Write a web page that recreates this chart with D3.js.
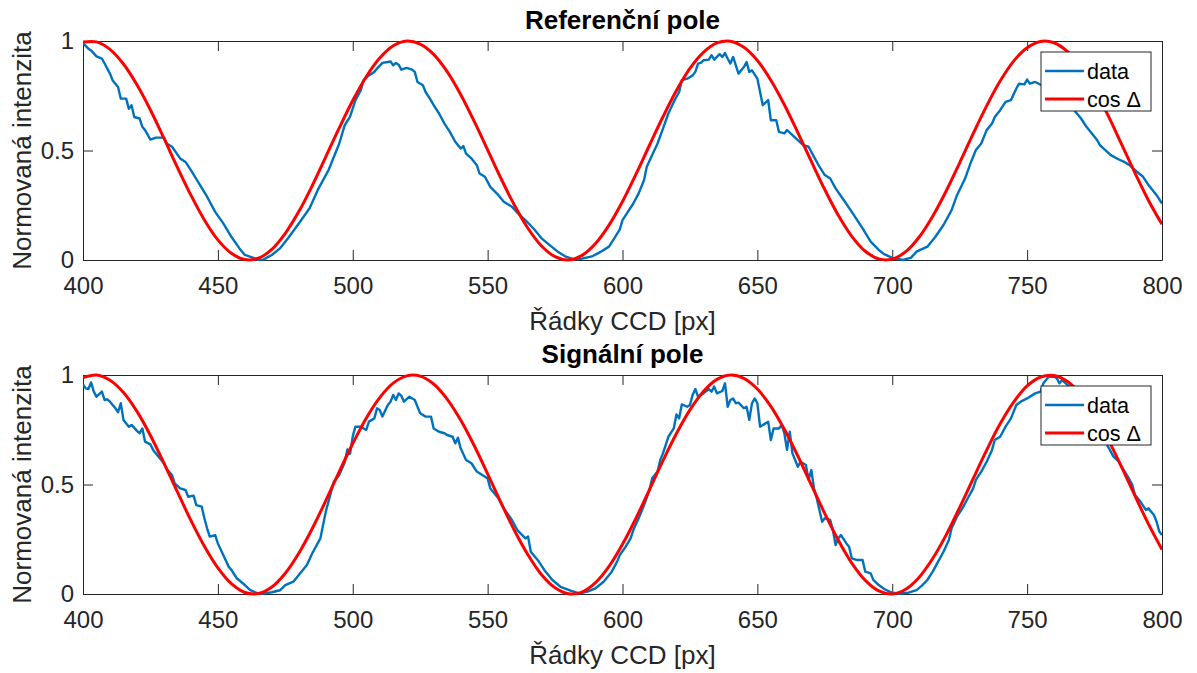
<!DOCTYPE html>
<html lang="cs">
<head>
<meta charset="UTF-8" />
<title>Referenční a signální pole</title>
<script src="https://d3js.org/d3.v7.min.js"></script>
<style>
  body { margin: 0; background: #fff; }
  svg { display: block; font-family: "Liberation Sans", Arial, Helvetica, sans-serif; }
  .tick text { font-size: 24px; fill: #262626; }
  .tick line, .domain { stroke: #262626; }
  .axis-label { font-size: 26px; fill: #262626; }
  .title { font-size: 26px; font-weight: bold; fill: #000; }
  .legend text { font-size: 21.6px; fill: #000; }
</style>
</head>
<body>
<svg width="1197" height="673"></svg>
<script>
// osa x a y
const xTicks = [400, 450, 500, 550, 600, 650, 700, 750, 800];
const yTicks = [0, 0.5, 1];
const yTickLabels = ["0", "0.5", "1"];
const titles = ["Referenční pole", "Signální pole"];
const xLabel = "Řádky CCD [px]";
const yLabel = "Normovaná intenzita";
const legendNames = ["data", "cos \u0394"];

// referenční pole - naměřená data
const refRows = [400,402,403,405,407,408,410,411,413,414,416,417,418,419,421,422,423,425,427,430,
  431,433,436,438,440,443,446,449,452,455,458,460,463,465,467,470,473,476,480,484,
  487,491,495,497,499,501,503,504,506,508,509,511,513,514,515,516,517,518,520,522,
  523,524,526,527,529,530,532,534,536,538,540,541,542,544,546,547,549,551,554,556,
  559,561,564,567,570,573,576,579,582,585,589,592,595,597,599,600,602,604,606,608,
  609,611,613,615,617,619,621,622,624,626,627,628,629,630,632,633,634,636,637,638,
  639,640,641,643,645,646,647,648,650,652,654,655,657,658,660,661,663,665,667,669,
  671,673,675,677,679,682,685,689,692,695,697,700,704,707,709,713,716,719,722,724,
  727,729,731,733,735,737,738,740,742,744,746,747,749,750,751,753,755,758,762,765,
  768,770,772,774,776,777,779,781,784,786,788,790,793,795,798,800];
const refData = [0.99,0.965,0.957,0.93,0.92,0.897,0.851,0.82,0.79,0.737,0.737,0.69,0.707,0.653,0.646,0.608,0.593,0.55,0.559,0.559,
  0.532,0.517,0.464,0.448,0.41,0.35,0.289,0.22,0.167,0.106,0.053,0.023,0.011,0.0,0.003,0.023,0.053,0.099,0.167,0.236,
  0.319,0.41,0.532,0.615,0.655,0.73,0.775,0.821,0.843,0.859,0.874,0.9,0.904,0.907,0.889,0.9,0.892,0.869,0.877,0.869,
  0.859,0.813,0.798,0.767,0.729,0.707,0.669,0.623,0.585,0.54,0.509,0.52,0.486,0.464,0.433,0.395,0.38,0.334,0.296,0.266,
  0.243,0.216,0.182,0.144,0.099,0.068,0.038,0.015,0.003,0.006,0.018,0.038,0.061,0.1,0.14,0.182,0.22,0.258,0.304,0.365,
  0.426,0.479,0.532,0.6,0.669,0.722,0.767,0.821,0.828,0.843,0.859,0.897,0.9,0.912,0.915,0.935,0.915,0.94,0.927,0.945,
  0.919,0.897,0.927,0.851,0.881,0.904,0.859,0.866,0.828,0.707,0.73,0.638,0.638,0.585,0.578,0.593,0.57,0.547,0.524,0.517,
  0.471,0.426,0.388,0.372,0.327,0.274,0.22,0.144,0.084,0.046,0.027,0.01,0.0,0.011,0.038,0.061,0.106,0.16,0.228,0.296,
  0.372,0.441,0.502,0.532,0.593,0.623,0.653,0.684,0.722,0.73,0.783,0.805,0.802,0.824,0.805,0.813,0.80,0.79,0.76,0.72,
  0.676,0.646,0.608,0.578,0.547,0.524,0.502,0.479,0.459,0.448,0.433,0.41,0.38,0.342,0.296,0.258];

// signální pole - naměřená data
const sigRows = [400,401,402,403,404,405,407,408,409,410,412,413,414,415,417,418,420,421,422,423,
  425,426,428,430,431,433,434,436,438,439,441,442,444,445,446,447,449,450,452,454,
  455,457,460,462,465,467,470,473,475,478,480,483,485,488,490,492,493,495,497,498,
  499,500,501,503,504,505,506,508,509,510,511,513,514,515,516,517,518,519,521,523,
  525,527,529,530,532,534,535,537,538,539,540,542,544,546,548,550,551,554,556,559,
  561,564,565,566,569,571,574,577,581,584,587,590,593,596,598,599,601,603,604,606,
  608,610,611,613,614,615,616,617,619,620,621,622,624,625,626,627,628,630,632,633,
  634,635,637,638,639,640,641,642,643,645,646,647,648,649,650,651,653,654,655,656,
  658,659,660,661,662,663,664,665,666,668,669,670,671,672,674,675,677,678,679,680,
  681,683,684,685,687,689,690,692,693,695,697,699,700,703,706,709,711,713,715,717,
  719,721,722,724,726,728,730,731,733,735,737,738,740,742,744,746,748,750,751,753,
  755,756,758,760,761,762,763,765,768,771,774,777,780,781,782,784,785,787,789,790,
  792,794,795,797,798,799,800];
const sigData = [0.957,0.939,0.936,0.966,0.924,0.901,0.924,0.886,0.889,0.878,0.848,0.83,0.871,0.795,0.764,0.772,0.745,0.734,0.756,0.696,
  0.683,0.658,0.627,0.597,0.571,0.543,0.505,0.482,0.475,0.444,0.449,0.406,0.399,0.346,0.3,0.262,0.269,0.231,0.178,0.125,
  0.11,0.072,0.041,0.018,0.002,0.002,0.008,0.017,0.041,0.056,0.087,0.132,0.186,0.254,0.376,0.467,0.513,0.543,0.6,0.66,
  0.64,0.72,0.764,0.764,0.756,0.749,0.787,0.802,0.848,0.84,0.81,0.863,0.878,0.909,0.886,0.916,0.905,0.878,0.901,0.886,
  0.825,0.81,0.81,0.756,0.741,0.734,0.726,0.718,0.688,0.714,0.665,0.612,0.597,0.559,0.543,0.528,0.482,0.437,0.391,0.338,
  0.292,0.254,0.262,0.193,0.148,0.11,0.064,0.033,0.014,0.003,0.011,0.026,0.056,0.102,0.148,0.178,0.213,0.254,0.292,0.346,
  0.406,0.475,0.528,0.559,0.612,0.642,0.68,0.718,0.756,0.82,0.802,0.866,0.855,0.863,0.909,0.936,0.901,0.916,0.936,0.924,
  0.947,0.916,0.927,0.962,0.855,0.886,0.893,0.871,0.874,0.848,0.855,0.795,0.871,0.893,0.871,0.764,0.779,0.787,0.703,0.756,
  0.756,0.772,0.734,0.658,0.741,0.642,0.612,0.581,0.604,0.589,0.521,0.566,0.482,0.437,0.33,0.346,0.338,0.292,0.224,0.254,
  0.269,0.231,0.216,0.163,0.155,0.155,0.102,0.094,0.064,0.041,0.023,0.011,0.006,0.002,0.006,0.018,0.038,0.064,0.102,0.148,
  0.193,0.247,0.3,0.353,0.391,0.437,0.482,0.521,0.559,0.604,0.658,0.703,0.718,0.764,0.802,0.863,0.881,0.893,0.901,0.916,
  0.924,0.962,0.992,0.992,0.985,0.962,0.977,0.954,0.93,0.88,0.80,0.73,0.673,0.65,0.627,0.604,0.581,0.543,0.498,0.452,
  0.422,0.384,0.391,0.361,0.33,0.285,0.269];

// cos Δ - model (odečteno z grafu po 5 px)
const cosRows = [400,405,410,415,420,425,430,435,440,445,450,455,460,465,470,475,480,485,490,495,
  500,505,510,515,520,525,530,535,540,545,550,555,560,565,570,575,580,585,590,595,
  600,605,610,615,620,625,630,635,640,645,650,655,660,665,670,675,680,685,690,695,
  700,705,710,715,720,725,730,735,740,745,750,755,760,765,770,775,780,785,790,795,800];
const refCos = [0.995,0.996,0.962,0.895,0.800,0.685,0.556,0.423,0.296,0.183,0.092,0.031,0.002,0.008,0.049,0.122,0.221,0.340,0.471,0.603,
  0.728,0.837,0.922,0.978,1.000,0.986,0.939,0.860,0.756,0.634,0.503,0.371,0.249,0.144,0.064,0.015,0.000,0.021,0.075,0.159,
  0.267,0.392,0.524,0.654,0.774,0.875,0.948,0.991,0.999,0.971,0.911,0.821,0.709,0.582,0.450,0.321,0.204,0.108,0.040,0.005,
  0.004,0.038,0.105,0.200,0.315,0.444,0.577,0.704,0.817,0.908,0.969,0.998,0.992,0.951,0.878,0.779,0.660,0.529,0.397,0.272,0.163];
const sigCos = [0.988,1.000,0.976,0.920,0.834,0.724,0.598,0.466,0.336,0.218,0.119,0.047,0.007,0.002,0.032,0.095,0.186,0.299,0.426,0.559,
  0.687,0.803,0.897,0.963,0.996,0.995,0.959,0.890,0.794,0.678,0.549,0.416,0.289,0.178,0.088,0.028,0.001,0.009,0.052,0.126,
  0.227,0.346,0.477,0.609,0.733,0.841,0.925,0.980,1.000,0.985,0.936,0.857,0.752,0.630,0.498,0.367,0.245,0.141,0.062,0.014,
  0.000,0.022,0.077,0.162,0.270,0.395,0.527,0.657,0.777,0.876,0.950,0.991,0.998,0.970,0.909,0.820,0.707,0.580,0.448,0.319,0.203];

const colors = { data: "#0072BD", cos: "#FF0000" };

const svg = d3.select("svg");
const left = 83, right = 1162, plotH = 219;
const panels = [
  { top: 41, rows: refRows, data: refData, cos: refCos, title: titles[0] },
  { top: 375, rows: sigRows, data: sigData, cos: sigCos, title: titles[1] }
];

const x = d3.scaleLinear().domain([400, 800]).range([left, right]);

panels.forEach((p, i) => {
  const y = d3.scaleLinear().domain([0, 1]).range([p.top + plotH, p.top]);
  const g = svg.append("g");

  g.append("clipPath").attr("id", "clip" + i)
    .append("rect").attr("x", left).attr("y", p.top - 2).attr("width", right - left).attr("height", plotH + 4);

  // osy - ticky dovnitř, rámeček kolem
  g.append("g").attr("transform", `translate(0,${p.top + plotH})`)
    .call(d3.axisBottom(x).tickValues(xTicks).tickFormat(d3.format("d")).tickSizeInner(-10).tickSizeOuter(0).tickPadding(17));
  g.append("g").attr("transform", `translate(0,${p.top})`)
    .call(d3.axisTop(x).tickValues(xTicks).tickFormat("").tickSizeInner(-10).tickSizeOuter(0));
  g.append("g").attr("transform", `translate(${left},0)`)
    .call(d3.axisLeft(y).tickValues(yTicks).tickFormat((d, k) => yTickLabels[k]).tickSizeInner(-10).tickSizeOuter(0).tickPadding(9));
  g.append("g").attr("transform", `translate(${right},0)`)
    .call(d3.axisRight(y).tickValues(yTicks).tickFormat("").tickSizeInner(-10).tickSizeOuter(0));
  g.selectAll(".tick text").attr("font-family", null);
  g.selectAll("g").attr("font-family", null).attr("font-size", null);

  const lines = g.append("g").attr("clip-path", `url(#clip${i})`);

  const dataLine = d3.line().x((d, k) => x(p.rows[k])).y(d => y(d));
  lines.append("path").datum(p.data)
    .attr("fill", "none").attr("stroke", colors.data).attr("stroke-width", 2.4)
    .attr("stroke-linejoin", "round").attr("d", dataLine);

  const cosLine = d3.line().x((d, k) => x(cosRows[k])).y(d => y(d)).curve(d3.curveCatmullRom);
  lines.append("path").datum(p.cos)
    .attr("fill", "none").attr("stroke", colors.cos).attr("stroke-width", 3)
    .attr("d", cosLine);

  // popisky
  g.append("text").attr("class", "title")
    .attr("x", (left + right) / 2).attr("y", p.top - 12)
    .attr("text-anchor", "middle").text(p.title);
  g.append("text").attr("class", "axis-label")
    .attr("x", (left + right) / 2).attr("y", p.top + plotH + 70)
    .attr("text-anchor", "middle").text(xLabel);
  g.append("text").attr("class", "axis-label")
    .attr("transform", `translate(31,${p.top + plotH / 2}) rotate(-90)`)
    .attr("text-anchor", "middle").text(yLabel);

  // legenda
  const lg = g.append("g").attr("class", "legend").attr("transform", `translate(1041,${p.top + 11})`);
  lg.append("rect").attr("width", 110).attr("height", 59)
    .attr("fill", "#fff").attr("stroke", "#262626").attr("stroke-width", 1);
  [colors.data, colors.cos].forEach((c, k) => {
    const ly = 19 + k * 28;
    lg.append("line").attr("x1", 4).attr("x2", 43).attr("y1", ly).attr("y2", ly)
      .attr("stroke", c).attr("stroke-width", k === 0 ? 2.4 : 3);
    lg.append("text").attr("x", 46).attr("y", ly).attr("dy", "0.35em").text(legendNames[k]);
  });
});
</script>
</body>
</html>
